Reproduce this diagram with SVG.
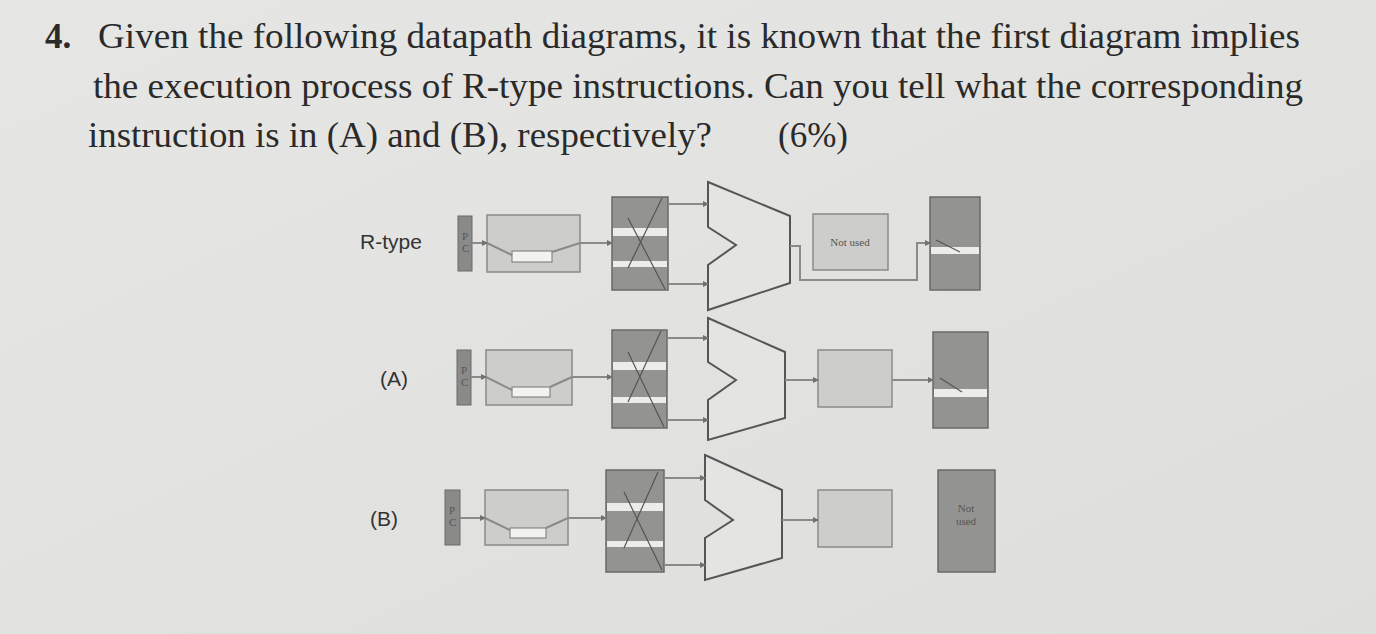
<svg xmlns="http://www.w3.org/2000/svg" width="1376" height="634" viewBox="0 0 1376 634">
<defs>
<linearGradient id="bg" x1="0" y1="0" x2="1" y2="1"><stop offset="0" stop-color="#e6e6e4"/><stop offset="1" stop-color="#dededc"/></linearGradient>
<marker id="ar" markerWidth="6" markerHeight="6" refX="5" refY="3" orient="auto" markerUnits="userSpaceOnUse"><path d="M0,0 L6,3 L0,6z" fill="#707070"/></marker>
<style>
.q{font-family:"Liberation Serif",serif;font-size:35px;fill:#2a2a2a}
.lb{font-family:"Liberation Sans",sans-serif;font-size:21px;fill:#333}
.sm{font-family:"Liberation Serif",serif;font-size:11px;fill:#555}
.pc{fill:#8a8a88;stroke:#6a6a68}
.im{fill:#cdcdcb;stroke:#8a8a88;stroke-width:1.5}
.rf{fill:#939391;stroke:#6a6a68;stroke-width:1.5}
.st{fill:#ececea}
.alu{fill:#e4e4e2;stroke:#555;stroke-width:2}
.w{fill:none;stroke:#8a8a88;stroke-width:2}
.c{fill:none;stroke:#8a8a88;stroke-width:2;marker-end:url(#ar)}
.x{stroke:#555;stroke-width:1.2}
</style>
</defs>
<rect width="1376" height="634" fill="url(#bg)"/>
<text class="q" x="45" y="48" font-weight="bold">4.</text>
<text class="q" x="98" y="48" textLength="1202" lengthAdjust="spacingAndGlyphs">Given the following datapath diagrams, it is known that the first diagram implies</text>
<text class="q" x="93" y="98" textLength="1210" lengthAdjust="spacingAndGlyphs">the execution process of R-type instructions. Can you tell what the corresponding</text>
<text class="q" x="88" y="147" textLength="624" lengthAdjust="spacingAndGlyphs">instruction is in (A) and (B), respectively?</text>
<text class="q" x="778" y="147">(6%)</text>
<text class="lb" x="360" y="249">R-type</text>
<text class="lb" x="380" y="386">(A)</text>
<text class="lb" x="370" y="526">(B)</text>

<g id="rtype">
<g id="r-pc"><rect class="pc" x="458" y="216" width="14" height="55"/><text class="sm" x="462" y="240" font-size="8">P</text><text class="sm" x="462" y="252" font-size="8">C</text></g>
<g id="r-im"><rect class="im" x="487" y="215" width="93" height="57"/><rect x="512" y="251" width="40" height="11" fill="#f2f2f0" stroke="#777"/><path class="w" d="M487,243 L512,255 M552,252 L580,243"/></g>
<g id="r-reg"><rect class="rf" x="612" y="197" width="56" height="93"/><rect class="st" x="613" y="228" width="54" height="8"/><rect class="st" x="613" y="261" width="54" height="6"/><path class="x" d="M662,198 L628,268 M628,218 L665,289"/></g>
<g id="r-alu"><polygon class="alu" points="708,182 790,216 790,283 708,310 708,265 736,245 708,227"/></g>
<g id="r-dm"><rect class="im" x="813" y="214" width="75" height="56"/><text class="sm" x="850" y="246" text-anchor="middle">Not used</text></g>
<g id="r-wb"><rect class="rf" x="930" y="197" width="50" height="93"/><rect class="st" x="931" y="247" width="48" height="7"/><path class="x" d="M936,240 L960,252"/></g>
</g>

<g id="rowA">
<g id="a-pc"><rect class="pc" x="457" y="350" width="14" height="55"/><text class="sm" x="461" y="374" font-size="8">P</text><text class="sm" x="461" y="386" font-size="8">C</text></g>
<g id="a-im"><rect class="im" x="486" y="350" width="86" height="55"/><rect x="512" y="387" width="38" height="10" fill="#f2f2f0" stroke="#777"/><path class="w" d="M486,377 L512,390 M550,387 L572,377"/></g>
<g id="a-reg"><rect class="rf" x="612" y="330" width="55" height="98"/><rect class="st" x="613" y="362" width="53" height="8"/><rect class="st" x="613" y="397" width="53" height="6"/><path class="x" d="M661,331 L628,402 M628,352 L664,427"/></g>
<g id="a-alu"><polygon class="alu" points="708,318 785,352 785,418 708,440 708,400 736,380 708,362"/></g>
<g id="a-dm"><rect class="im" x="818" y="350" width="74" height="57"/></g>
<g id="a-wb"><rect class="rf" x="933" y="332" width="55" height="96"/><rect class="st" x="934" y="389" width="53" height="8"/><path class="x" d="M940,378 L962,392"/></g>
</g>

<g id="rowB">
<g id="b-pc"><rect class="pc" x="445" y="490" width="15" height="55"/><text class="sm" x="449" y="514" font-size="8">P</text><text class="sm" x="449" y="526" font-size="8">C</text></g>
<g id="b-im"><rect class="im" x="485" y="490" width="83" height="55"/><rect x="510" y="528" width="36" height="10" fill="#f2f2f0" stroke="#777"/><path class="w" d="M485,518 L510,530 M546,528 L568,518"/></g>
<g id="b-reg"><rect class="rf" x="606" y="470" width="58" height="102"/><rect class="st" x="607" y="503" width="56" height="8"/><rect class="st" x="607" y="541" width="56" height="6"/><path class="x" d="M658,472 L624,548 M624,492 L662,570"/></g>
<g id="b-alu"><polygon class="alu" points="705,455 782,490 782,558 705,580 705,538 733,520 705,500"/></g>
<g id="b-dm"><rect class="im" x="818" y="490" width="74" height="57"/></g>
<g id="b-wb"><rect class="rf" x="938" y="470" width="57" height="102"/><text class="sm" x="966" y="512" text-anchor="middle" fill="#ddd">Not</text><text class="sm" x="966" y="525" text-anchor="middle" fill="#ddd">used</text></g>
</g>

<g id="connectors">
<path class="c" d="M472,243 L487,243"/><path class="c" d="M580,243 L612,243"/>
<path class="c" d="M668,204 L708,204"/><path class="c" d="M668,284 L708,284"/>
<path class="c" d="M790,246 L800,246 L800,280 L917,280 L917,243 L930,243"/>
<path class="c" d="M471,377 L486,377"/><path class="c" d="M572,377 L612,377"/>
<path class="c" d="M667,338 L708,338"/><path class="c" d="M667,420 L708,420"/>
<path class="c" d="M785,380 L818,380"/><path class="c" d="M892,380 L933,380"/>
<path class="c" d="M460,518 L485,518"/><path class="c" d="M568,518 L606,518"/>
<path class="c" d="M664,478 L705,478"/><path class="c" d="M664,565 L705,565"/>
<path class="c" d="M782,520 L818,520"/>
</g>
</svg>
